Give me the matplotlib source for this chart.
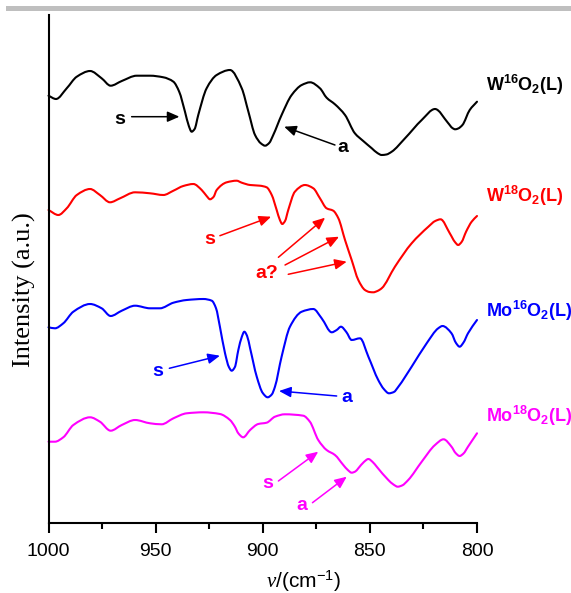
import matplotlib
matplotlib.use("Agg")
import numpy as np
import matplotlib.pyplot as plt
from matplotlib.patches import Rectangle, PathPatch
from matplotlib.path import Path

plt.rcParams['font.family'] = ['Liberation Sans', 'DejaVu Sans']
plt.rcParams['mathtext.fontset'] = 'custom'
plt.rcParams['mathtext.rm'] = 'Liberation Sans'
plt.rcParams['mathtext.bf'] = 'Liberation Sans:bold'
plt.rcParams['mathtext.it'] = 'Liberation Serif:italic'
plt.rcParams['mathtext.default'] = 'regular'

# ---------------- data ----------------
wn_w16 = [1000, 996.5, 991.5, 986.8, 980.6, 975.2, 971.0, 965.8, 958.8, 952.6, 946.4, 941.7, 939.0,
          936.3, 934.5, 933.2, 931.8, 930.1, 926.2, 921.5, 915.3, 909.8, 906.7, 903.6, 900.8, 898.9,
          897.0, 895.1, 891.2, 886.5, 881.8, 877.9, 873.3, 870.2, 866.3, 861.6, 857.0, 853.1, 849.1,
          846.5, 844.5, 842.3, 839.8, 833.6, 825.8, 819.6, 813.5, 811.5, 810.2, 808.8, 806.8, 803.4, 800]
I_w16 = [427.3, 424, 434.7, 446.3, 452, 444.7, 437.3, 442, 447.3, 447.3, 445.7, 441.3, 431.3,
         411.3, 397, 391.3, 394, 408, 434.7, 448, 453, 434.7, 411.3, 388, 379.5, 377.3,
         380, 388, 408, 428, 438, 440.7, 434.7, 425.3, 418.7, 408, 389.7, 382, 374.7,
         370, 368, 368.5, 371.3, 384.7, 403, 414, 400, 395, 393.7, 394.5, 398, 413, 421.3]

wn_w18 = [1000, 995.4, 991.5, 986.8, 980.6, 976.0, 971.3, 966.6, 959.6, 952.6, 946.4, 941.7, 937.1,
          932.4, 928.5, 926.2, 924.6, 923.0, 921.5, 916.8, 912.2, 909.8, 905.9, 901.3, 898.2, 895.8,
          893.5, 892.0, 890.9, 889.6, 888.1, 885.0, 880.3, 876.4, 873.3, 870.2, 867.1, 864.7, 861.6,
          858.5, 855.4, 852.3, 850.2, 848.4, 846.5, 844.5, 838.3, 830.5, 822.7, 819.5, 817.0, 812.7,
          810.3, 808.8, 807.2, 805.1, 802.5, 800]
I_w18 = [313, 308, 314.7, 328, 334, 328, 320.7, 324.7, 330.7, 329.7, 328, 332.3, 337,
         339, 333, 327, 323.7, 326, 333, 340.7, 342.3, 340.3, 338, 337.3, 335.7, 328,
         313, 303, 299, 302, 313, 331.3, 338, 334.7, 324.7, 314.7, 312.3, 304.7, 283,
         263, 243, 233, 231, 230.7, 232, 234.7, 256.3, 279.7, 296.3, 302, 303.7, 289.7,
         281, 278, 281, 291.3, 301.3, 307]

wn_mo16 = [1000, 997.0, 993.1, 988.4, 980.6, 975.2, 971.0, 965.8, 959.6, 952.6, 948.0, 941.7,
           935.5, 927.7, 923.8, 921.8, 920.0, 917.6, 915.8, 914.5, 913.0, 911.4, 909.8, 908.6,
           907.3, 905.9, 902.8, 900.0, 897.7, 895.8, 894.3, 891.2, 887.3, 881.8, 876.4, 872.5,
           867.8, 865.5, 863.5, 861.0, 858.5, 854.6, 850.7, 846.1, 843.5, 841.1, 838.8, 836.7,
           830.5, 823.5, 818.1, 816.1, 811.9, 809.8, 808.1, 806.3, 804.2, 800]
I_mo16 = [195.7, 194.7, 199.7, 211.3, 219, 214.7, 207, 212.3, 217.3, 214.7, 214.7, 220.3,
          223, 224, 222.3, 214.7, 196.3, 169.7, 156, 152.3, 156, 173, 186, 191.3,
          187, 174.7, 146.3, 130, 125.7, 128.5, 136.3, 166.3, 196.3, 211.3, 214, 204.7,
          190.7, 193, 196.3, 191, 183, 184.7, 166.3, 143, 134, 129.7, 131, 136.3,
          156.3, 179.7, 194.7, 197, 189.7, 180, 176.3, 180.5, 189.7, 203]

wn_mo18 = [1000, 997.0, 993.1, 988.4, 980.6, 976.0, 971.0, 965.8, 959.6, 952.6, 947.2, 941.7,
           935.5, 927.7, 920.0, 915.3, 913.0, 911.4, 909.1, 905.9, 902.1, 898.2, 894.3, 889.7,
           881.1, 878.0, 874.1, 870.2, 866.3, 862.4, 860.3, 858.5, 856.8, 855.4, 852.8, 850.7,
           848.7, 846.8, 841.4, 839.0, 837.0, 835.0, 832.1, 825.8, 819.6, 815.6, 811.9, 810.0,
           808.1, 806.3, 804.2, 800]
I_mo18 = [81.3, 81.3, 85.7, 98, 105.7, 101.3, 92.3, 98, 103, 99.7, 98.7, 104.7,
          109.7, 110.7, 109, 103, 96.3, 89.7, 85.7, 93, 99, 100.3, 106.3, 108.7,
          107.3, 101.3, 83, 73, 68, 58, 53, 50.3, 51.5, 54.7, 61, 64,
          61, 56.3, 43, 38.5, 36.3, 37.5, 43, 61.3, 78, 83.7, 76.3, 70,
          67, 69.5, 76.3, 89.7]

series_labels = [r'W$^{16}$O$_{2}$(L)', r'W$^{18}$O$_{2}$(L)',
                 r'Mo$^{16}$O$_{2}$(L)', r'Mo$^{18}$O$_{2}$(L)']
x_ticks = [1000, 950, 900, 850, 800]
x_minor = [975, 925, 875, 825]


def smooth_path(x, y):
    """Cubic Bezier path through every measured point (shape-preserving Hermite tangents)."""
    x = np.asarray(x, float)
    y = np.asarray(y, float)
    h = np.diff(x)
    d = np.diff(y) / h
    m = np.zeros_like(y)
    for i in range(1, len(y) - 1):
        if d[i - 1] * d[i] > 0:
            w1 = 2 * h[i] + h[i - 1]
            w2 = h[i] + 2 * h[i - 1]
            m[i] = (w1 + w2) / (w1 / d[i - 1] + w2 / d[i])
    m[0] = d[0]
    m[-1] = d[-1]
    verts = [(x[0], y[0])]
    codes = [Path.MOVETO]
    for i in range(len(x) - 1):
        verts += [(x[i] + h[i] / 3, y[i] + m[i] * h[i] / 3),
                  (x[i + 1] - h[i] / 3, y[i + 1] - m[i + 1] * h[i] / 3),
                  (x[i + 1], y[i + 1])]
        codes += [Path.CURVE4] * 3
    return Path(verts, codes)


# ---------------- figure ----------------
fig = plt.figure(figsize=(5.71, 5.93), dpi=100)
W, H = 571, 593
ax = fig.add_axes([48.5 / W, 1 - 523 / H, (477 - 48.5) / W, (523 - 15) / H])

# grey band at the very top of the image
fig.patches.append(Rectangle((5.5 / W, 1 - 10.5 / H), 1, 5 / H, transform=fig.transFigure,
                             color='#bfbfbf', lw=0, zorder=0))

colors = ['black', '#ff0000', '#0000ff', '#ff00ff']
series = [(wn_w16, I_w16), (wn_w18, I_w18), (wn_mo16, I_mo16), (wn_mo18, I_mo18)]
for (x, y), c in zip(series, colors):
    ax.add_patch(PathPatch(smooth_path(x, y), facecolor='none', edgecolor=c, lw=1.5,
                           joinstyle='round', capstyle='round', clip_on=False))

ax.set_xlim(1000, 800)
ax.set_ylim(0, 508)
ax.set_xticks(x_ticks)
ax.set_xticks(x_minor, minor=True)
ax.set_xticklabels([str(t) for t in x_ticks])
ax.set_yticks([])
for s in ['top', 'right']:
    ax.spines[s].set_visible(False)
for s in ['left', 'bottom']:
    ax.spines[s].set_linewidth(1.5)
ax.tick_params(axis='x', which='major', direction='out', length=7.5, width=1.5,
               labelsize=14, pad=7)
ax.tick_params(axis='x', which='minor', direction='out', length=4.5, width=1.5)

ax.set_xlabel(r'$\mathit{\nu}$/(cm$^{-1}$)', fontsize=15)
ax.xaxis.set_label_coords(0.595, -0.088)
ax.set_ylabel('Intensity (a.u.)', fontsize=19, family='Liberation Serif')
ax.yaxis.label.set_va('center')
ax.yaxis.set_label_coords(-0.056, 0.46)

# series labels on the right
label_y = [432.3, 321.3, 206.3, 100.7]
for lab_t, c, yy in zip(series_labels, colors, label_y):
    ax.text(795.8, yy, lab_t, color=c, fontsize=13, fontweight='bold', ha='left', va='baseline',
            clip_on=False)


# band assignments
def arrow(c, start, tip):
    ax.annotate('', xy=tip, xytext=start,
                arrowprops=dict(arrowstyle='-|>,head_length=0.8,head_width=0.35', color=c, lw=1.1,
                                shrinkA=0, shrinkB=0, mutation_scale=9))


def lab(c, pos, t):
    ax.text(pos[0], pos[1], t, color=c, fontsize=14, fontweight='bold', ha='center', va='center')


lab('black', (966.6, 404), 's'); arrow('black', (961.2, 406.3), (938.9, 406.3))
lab('black', (862.4, 375.3), 'a'); arrow('black', (866.3, 378), (890.0, 396.3))

lab('#ff0000', (924.9, 284), 's'); arrow('#ff0000', (920.0, 287.3), (896.1, 306.3))
lab('#ff0000', (898.2, 249.7), 'a?')
arrow('#ff0000', (892.7, 265.7), (870.9, 305.3))
arrow('#ff0000', (889.6, 258), (864.4, 286.3))
arrow('#ff0000', (888.1, 248.7), (860.8, 261.3))

lab('#0000ff', (948.8, 152), 's'); arrow('#0000ff', (943.6, 154.7), (920.0, 167.3))
lab('#0000ff', (860.8, 125.7), 'a'); arrow('#0000ff', (865.5, 127), (892.4, 132))

lab('#ff00ff', (897.7, 39.7), 's'); arrow('#ff00ff', (892.7, 42), (874.1, 71.3))
lab('#ff00ff', (881.9, 18), 'a'); arrow('#ff00ff', (876.8, 20.3), (860.8, 46.3))

fig.savefig('out.png', dpi=100)
